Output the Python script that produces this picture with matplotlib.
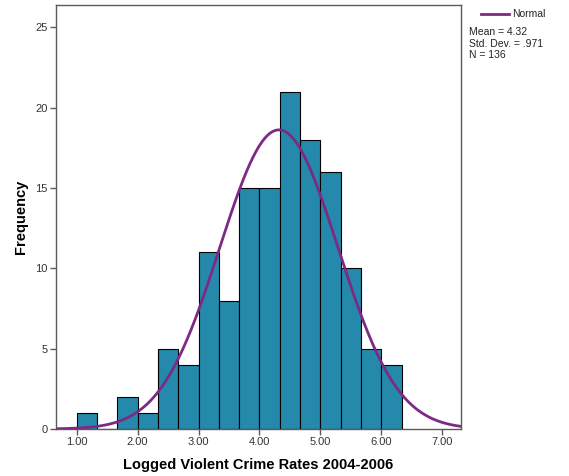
import numpy as np
import matplotlib.pyplot as plt
from matplotlib.lines import Line2D

plt.rcParams['font.family'] = ['Liberation Sans', 'DejaVu Sans']

bin_start = 1.0
bin_width = 1 / 3
counts = [1, 0, 2, 1, 5, 4, 11, 8, 15, 15, 21, 18, 16, 10, 5, 4]
mean_val = 4.32
sd_val = 0.971
n_val = 136
x_ticks = [1, 2, 3, 4, 5, 6, 7]
y_ticks = [0, 5, 10, 15, 20, 25]

bar_color = '#2589ab'
curve_color = '#7d2a85'
axis_gray = '#5a5a5a'

fig = plt.figure(figsize=(5.69, 4.76), dpi=100)
ax = fig.add_axes([0.0984, 0.0987, 0.7118, 0.8908])

edges = bin_start + bin_width * np.arange(len(counts))
ax.bar(edges, counts, width=bin_width, align='edge', color=bar_color,
       edgecolor='black', linewidth=0.8, zorder=2)

xs = np.linspace(0.66, 7.31, 400)
ys = n_val * bin_width / (sd_val * np.sqrt(2 * np.pi)) * np.exp(-0.5 * ((xs - mean_val) / sd_val) ** 2)
ax.plot(xs, ys, color=curve_color, linewidth=2, zorder=3)

ax.set_xlim(0.66, 7.31)
ax.set_ylim(0, 26.4)
ax.set_xticks(x_ticks)
ax.set_xticklabels(['%.2f' % t for t in x_ticks])
ax.set_yticks(y_ticks)
ax.tick_params(direction='out', length=4, width=1, color=axis_gray,
               labelsize=8, labelcolor='#333333', pad=2)
for s in ax.spines.values():
    s.set_color(axis_gray)
    s.set_linewidth(1)

ax.set_xlabel('Logged Violent Crime Rates 2004-2006', fontsize=10.5, fontweight='bold', labelpad=8)
ax.set_ylabel('Frequency', fontsize=10.5, fontweight='bold', labelpad=5)

# legend and stats box outside the plot area
fig.add_artist(Line2D([0.845, 0.895], [0.971, 0.971], color=curve_color, linewidth=2,
                      transform=fig.transFigure))
fig.text(0.9, 0.971, 'Normal', fontsize=7.5, va='center', ha='left', color='#222222')
fig.text(0.824, 0.943, 'Mean = %.2f\nStd. Dev. = .971\nN = %d' % (mean_val, n_val),
         fontsize=7.5, va='top', ha='left', linespacing=1.2, color='#222222')

fig.savefig('out.png', dpi=100)
